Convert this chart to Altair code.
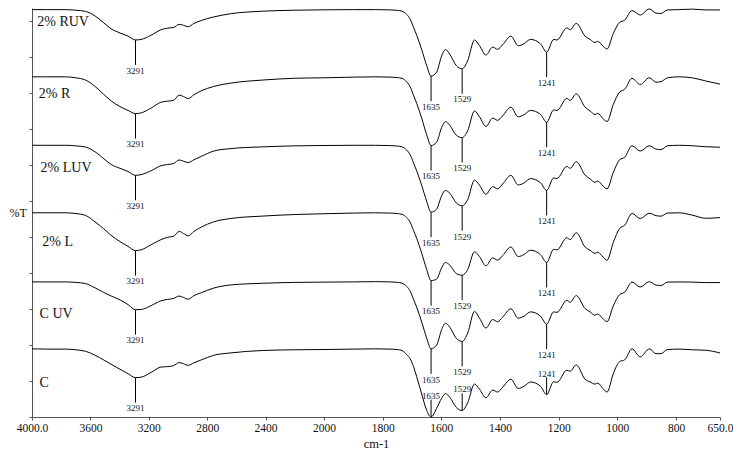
import altair as alt
import pandas as pd

# wavenumber grid (cm-1) shared by all spectra
wavenumber = [4000, 3900, 3770, 3700, 3634, 3568, 3512, 3458, 3397, 3342,
              3291, 3252, 3184, 3117, 3071, 3030, 2992, 2963, 2930, 2890,
              2840, 2755, 2642, 2416, 2200, 2000, 1900, 1824, 1774, 1750,
              1734, 1718, 1706, 1695, 1684, 1667, 1650, 1635, 1616, 1599,
              1586, 1571, 1549, 1529, 1510, 1487, 1470, 1448, 1425, 1408,
              1391, 1363, 1338, 1318, 1296, 1262, 1241, 1217, 1206, 1172,
              1161, 1140, 1110, 1093, 1076, 1067, 1048, 1035, 1014, 992,
              975, 950, 922, 891, 868, 851, 829, 789, 744, 699,
              650]

# stacked %T traces (offset units)
ruv = [424.3, 424.3, 424.3, 423.7, 422.5, 417.7, 411.0, 404.3, 400.0, 396.7,
       392.7, 393.3, 397.7, 403.3, 405.0, 405.7, 409.0, 408.0, 406.5, 410.0,
       413.0, 416.7, 420.0, 422.7, 423.7, 424.1, 424.3, 424.3, 424.0, 423.5,
       422.7, 419.3, 414.3, 406.0, 397.7, 382.7, 366.0, 355.0, 359.3, 376.0,
       382.7, 377.7, 366.0, 362.7, 371.3, 392.7, 386.7, 377.0, 385.3, 383.0,
       387.7, 396.7, 386.7, 388.8, 393.3, 388.7, 380.0, 393.3, 392.7, 405.3,
       403.3, 410.0, 396.7, 393.3, 390.0, 391.3, 386.0, 383.3, 399.3, 411.0,
       413.3, 423.3, 418.7, 425.0, 420.7, 420.3, 424.0, 424.3, 424.8, 424.0,
       424.0]
r = [354.3, 354.3, 354.3, 353.3, 351.0, 344.3, 336.5, 329.3, 323.3, 319.3,
     316.0, 316.8, 321.8, 327.8, 329.0, 329.8, 335.3, 333.8, 331.7, 335.8,
     339.8, 344.3, 347.7, 351.0, 352.8, 353.3, 354.0, 354.3, 354.0, 353.5,
     352.7, 349.0, 343.8, 335.2, 326.7, 311.2, 294.0, 282.7, 286.3, 301.5,
     307.7, 303.7, 293.5, 291.0, 298.3, 318.7, 312.7, 302.6, 311.3, 309.0,
     313.7, 322.7, 312.7, 314.8, 319.3, 315.2, 307.0, 319.8, 319.2, 331.8,
     329.8, 336.7, 322.7, 318.8, 315.0, 316.3, 310.5, 307.7, 325.3, 338.5,
     341.3, 352.7, 346.3, 353.3, 348.7, 349.3, 353.3, 354.3, 353.3, 350.0,
     346.7]
luv = [283.0, 283.0, 283.0, 282.4, 281.2, 276.2, 269.5, 263.0, 259.0, 255.7,
       251.7, 252.5, 256.5, 261.7, 263.0, 264.0, 267.7, 266.5, 265.0, 268.0,
       271.5, 277.0, 279.5, 281.4, 282.4, 282.8, 283.0, 283.0, 282.7, 282.2,
       281.4, 278.0, 273.0, 264.7, 256.4, 241.4, 224.7, 213.3, 216.5, 230.5,
       236.0, 233.0, 223.0, 220.0, 226.5, 246.7, 241.5, 232.0, 240.0, 237.7,
       242.7, 251.7, 241.7, 243.8, 248.3, 244.0, 236.0, 249.0, 248.4, 261.0,
       259.0, 266.0, 252.0, 248.0, 244.4, 245.7, 240.4, 237.7, 254.5, 268.0,
       270.5, 282.5, 277.0, 282.5, 279.0, 278.5, 282.5, 283.0, 282.5, 281.5,
       281.0]
l = [212.7, 212.7, 212.7, 211.9, 210.0, 203.2, 196.5, 189.2, 182.7, 177.7,
     173.3, 174.2, 179.4, 184.7, 187.2, 188.2, 193.3, 191.2, 188.7, 193.4,
     197.8, 203.3, 206.7, 209.3, 210.9, 211.7, 212.4, 212.7, 212.4, 211.9,
     211.1, 207.7, 202.7, 194.4, 186.1, 170.7, 153.7, 142.0, 143.7, 155.4,
     161.0, 158.1, 149.4, 147.7, 153.7, 172.1, 167.1, 157.4, 165.7, 163.4,
     168.1, 177.1, 167.1, 169.2, 173.7, 169.1, 161.0, 174.7, 174.1, 186.7,
     184.7, 192.0, 177.1, 173.7, 170.4, 171.7, 166.4, 163.3, 181.7, 196.4,
     199.7, 212.0, 206.7, 212.2, 209.7, 209.2, 212.4, 212.7, 210.2, 207.0,
     207.7]
cuv = [140.7, 140.7, 140.7, 140.2, 139.0, 134.5, 130.0, 126.0, 122.0, 117.0,
       111.7, 112.0, 116.0, 121.0, 122.5, 123.5, 126.0, 124.5, 122.7, 126.5,
       129.5, 134.3, 137.5, 139.3, 140.2, 140.5, 140.7, 141.0, 140.7, 140.2,
       139.4, 136.0, 131.0, 122.7, 114.4, 99.0, 82.2, 71.0, 75.0, 91.0,
       97.7, 93.5, 82.0, 78.7, 87.5, 110.0, 103.0, 92.7, 101.5, 99.2,
       104.0, 112.7, 103.0, 105.0, 109.5, 105.0, 96.7, 109.5, 109.0, 121.5,
       119.5, 126.5, 113.0, 109.5, 106.0, 107.3, 102.0, 99.3, 115.5, 127.5,
       130.0, 140.5, 135.4, 141.0, 137.4, 137.0, 140.5, 140.7, 140.5, 140.0,
       140.0]
c = [71.0, 70.7, 70.7, 70.0, 68.5, 64.3, 59.7, 54.9, 49.7, 45.1,
     41.0, 41.5, 46.5, 52.0, 52.5, 53.5, 56.7, 55.5, 53.8, 56.5,
     59.5, 64.3, 66.7, 69.3, 70.0, 70.3, 70.7, 71.0, 70.7, 70.2,
     69.2, 65.0, 60.5, 52.7, 42.0, 24.0, 7.0, 0.0, 9.0, 19.5,
     24.3, 20.5, 10.0, 6.7, 15.0, 34.3, 29.0, 20.0, 28.0, 26.0,
     31.0, 39.3, 29.7, 32.0, 36.5, 32.0, 23.3, 36.7, 36.0, 48.7,
     47.7, 54.3, 39.3, 36.5, 34.3, 35.3, 29.3, 26.0, 45.0, 57.7,
     59.5, 71.0, 62.7, 71.0, 66.0, 66.0, 70.3, 70.7, 70.0, 69.5,
     66.7]

series_names = ["2% RUV", "2% R", "2% LUV", "2% L", "C UV", "C"]
series_values = [ruv, r, luv, l, cuv, c]

peak_wavenumbers = [3291, 1635, 1529, 1241]
peak_labels = ["3291", "1635", "1529", "1241"]

# trace-name label anchors (data coordinates)
name_wn = [3964, 3953, 3941, 3930, 3948, 3948]
name_t = [411.0, 336.7, 259.3, 182.7, 107.7, 35.3]

x_ticks = [4000, 3600, 3200, 2800, 2400, 2000, 1800, 1600, 1400, 1200, 1000, 800, 650]
y_ticks = [round(i * 37.45, 2) for i in range(12)]

W, H = 688, 409

rows = []
for name, vals in zip(series_names, series_values):
    for i, (w, v) in enumerate(zip(wavenumber, vals)):
        rows.append({"trace": name, "wn": w, "T": v, "idx": i})
df = pd.DataFrame(rows)

prow = []
for name, vals in zip(series_names, series_values):
    for pw, pl in zip(peak_wavenumbers, peak_labels):
        t = vals[wavenumber.index(pw)]
        up = (name == "C") and pw != 3291
        prow.append({"trace": name, "wn": pw, "T": t, "label": pl, "up": up})
pdf = pd.DataFrame(prow)
pdf["T2"] = pdf.apply(lambda d: d["T"] + 18 if d["up"] else d["T"] - 26, axis=1)
pdf["T3"] = pdf.apply(lambda d: d["T"] + 22 if d["up"] else d["T"] - 32, axis=1)

ndf = pd.DataFrame({"trace": series_names, "wn": name_wn, "T": name_t})

xscale = alt.Scale(domain=[4000, 2000, 650], range=[0, 292, W], nice=False, zero=False)
yscale = alt.Scale(domain=[0, 426], nice=False, zero=False)

xaxis = alt.Axis(values=x_ticks, format="d",
                 labelExpr="datum.value == 4000 ? '4000.0' : (datum.value == 650 ? '650.0' : datum.label)",
                 title="cm-1", tickSize=3, labelPadding=2, titlePadding=4,
                 labelFontSize=11.5, titleFontSize=12.5, titleFontWeight="normal",
                 labelOverlap=False, labelFlush=False, grid=False)
yaxis = alt.Axis(values=y_ticks, labels=False, tickSize=3, title="%T", titleAngle=0,
                 titleAlign="left", titleBaseline="middle", titleX=-23, titleY=H / 2,
                 titleFontSize=12, titleFontWeight="normal", grid=False)

X = alt.X("wn:Q", scale=xscale, axis=xaxis)

lines = alt.Chart(df).mark_line(color="black", strokeWidth=1, interpolate="monotone").encode(
    x=X,
    y=alt.Y("T:Q", scale=yscale, axis=yaxis),
    detail="trace:N",
    order="idx:Q",
)

rules = alt.Chart(pdf).mark_rule(color="black", strokeWidth=1).encode(
    x=X,
    y=alt.Y("T:Q", scale=yscale, axis=yaxis),
    y2="T2:Q",
)

ptext = alt.Chart(pdf).mark_text(font="Liberation Serif", fontSize=9, color="#111",
                                 align="center", baseline="middle").encode(
    x=X,
    y=alt.Y("T3:Q", scale=yscale, axis=yaxis),
    text="label:N",
)

ntext = alt.Chart(ndf).mark_text(font="Liberation Serif", fontSize=14, color="#111",
                                 align="left", baseline="middle").encode(
    x=X,
    y=alt.Y("T:Q", scale=yscale, axis=yaxis),
    text="trace:N",
)

chart = alt.layer(lines, rules, ptext, ntext).properties(
    width=W, height=H,
    padding={"left": 24, "top": 0, "right": 13, "bottom": 33},
    autosize=alt.AutoSizeParams(type="none"),
    background="white",
).configure_view(stroke=None).configure_axis(
    domainColor="#555", tickColor="#555", labelColor="#111", titleColor="#111",
    labelFont="Liberation Serif", titleFont="Liberation Serif",
)

chart.save("out.html", embed_options={"renderer": "svg", "actions": False})
